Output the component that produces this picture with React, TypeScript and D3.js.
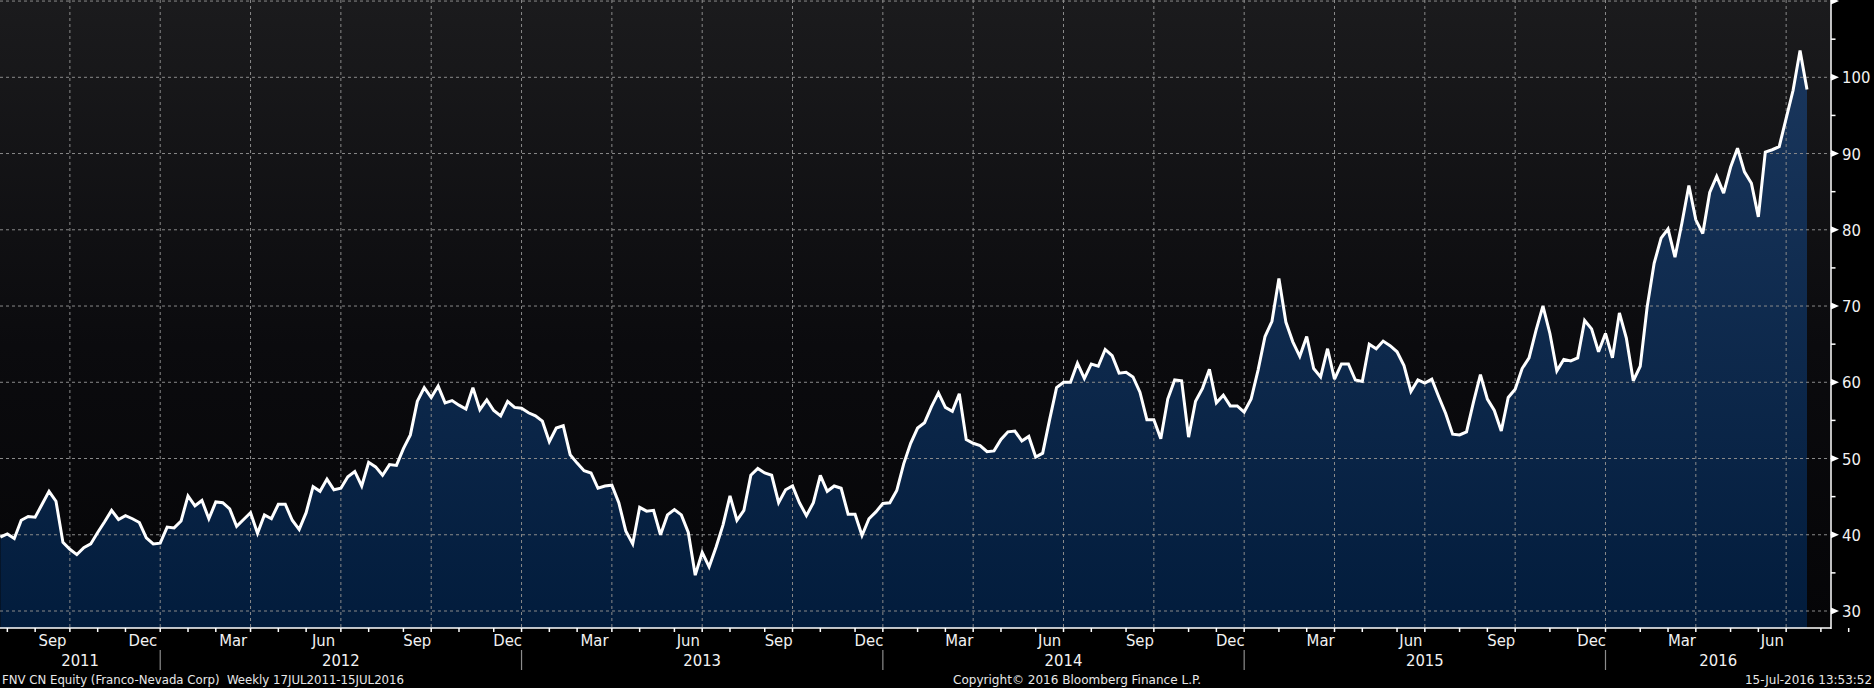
import React, { useRef, useEffect } from "react";
import * as d3 from "d3";

// weekly closes, first week ends Fri 22 Jul 2011
const firstWeek = new Date(Date.UTC(2011, 6, 22));

const prices2011 = [
  39.7, 40.1, 39.5, 41.9, 42.4, 42.3, 44.0, 45.7, 44.4, 39.0, 38.1, 37.4,
  38.3, 38.8, 40.3, 41.7, 43.2, 42.0, 42.5, 42.1, 41.6, 39.6, 38.8, 38.9,
];
const prices2012 = [
  41.0, 40.9, 41.8, 45.1, 43.8, 44.5, 42.1, 44.3, 44.2, 43.4, 41.1, 42.0,
  42.9, 40.2, 42.6, 42.1, 44.0, 44.0, 41.9, 40.7, 42.9, 46.3, 45.7, 47.3,
  45.9, 46.1, 47.6, 48.3, 46.4, 49.5, 48.9, 47.8, 49.2, 49.1, 51.3, 53.1,
  57.5, 59.3, 58.0, 59.5, 57.3, 57.6, 57.0, 56.5, 59.3, 56.4, 57.7, 56.3,
  55.6, 57.5, 56.7, 56.6,
];
const prices2013 = [
  56.0, 55.6, 54.9, 52.2, 54.0, 54.3, 50.5, 49.4, 48.4, 48.1, 46.1, 46.4,
  46.5, 44.2, 40.5, 38.8, 43.6, 43.1, 43.2, 40.0, 42.6, 43.3, 42.6, 40.3,
  34.7, 37.7, 35.8, 38.4, 41.3, 45.1, 41.9, 43.2, 47.8, 48.7, 48.1, 47.8,
  44.2, 45.9, 46.4, 44.2, 42.5, 44.2, 47.8, 45.7, 46.4, 46.1, 42.7, 42.7,
  39.9, 42.1, 43.0, 44.1,
];
const prices2014 = [
  44.2, 45.8, 49.3, 52.0, 54.0, 54.7, 56.8, 58.6, 56.7, 56.2, 58.5, 52.5,
  52.0, 51.7, 50.9, 51.0, 52.5, 53.5, 53.6, 52.3, 52.9, 50.2, 50.7, 55.1,
  59.3, 60.0, 60.0, 62.5, 60.5, 62.4, 62.1, 64.3, 63.5, 61.2, 61.3, 60.7,
  58.7, 55.1, 55.1, 52.6, 57.8, 60.3, 60.2, 52.8, 57.5, 59.2, 61.7, 57.3,
  58.3, 56.9, 56.9, 56.1,
];
const prices2015 = [
  57.8, 61.6, 66.0, 68.0, 73.6, 67.9, 65.3, 63.4, 66.0, 61.8, 60.7, 64.4,
  60.4, 62.4, 62.4, 60.3, 60.1, 65.0, 64.4, 65.4, 64.8, 64.0, 62.2, 58.8,
  60.3, 59.9, 60.4, 58.1, 55.9, 53.2, 53.1, 53.5, 57.4, 61.0, 57.8, 56.3,
  53.6, 58.0, 59.1, 61.8, 63.2, 66.8, 70.0, 66.4, 61.5, 63.0, 62.8, 63.2,
  68.1, 67.0, 64.0, 66.4,
];
const prices2016 = [
  63.2, 69.1, 65.8, 60.2, 62.1, 69.9, 75.6, 78.9, 80.1, 76.4, 80.9, 85.8,
  81.3, 79.5, 84.9, 87.0, 84.8, 88.2, 90.7, 87.6, 86.1, 81.7, 90.2, 90.5,
  90.9, 94.6, 98.3, 103.5, 98.4,
];

const prices = [
  ...prices2011, ...prices2012, ...prices2013,
  ...prices2014, ...prices2015, ...prices2016,
];

const gridValues = [30, 40, 50, 60, 70, 80, 90, 100, 110];
const labelValues = [30, 40, 50, 60, 70, 80, 90, 100];
const minorValues = [35, 45, 55, 65, 75, 85, 95, 105];
const monthNames = ["Jan", "Feb", "Mar", "Apr", "May", "Jun", "Jul", "Aug", "Sep", "Oct", "Nov", "Dec"];
const years = [2011, 2012, 2013, 2014, 2015, 2016];

const footerLeft = "FNV CN Equity (Franco-Nevada Corp)  Weekly 17JUL2011-15JUL2016";
const footerMid = "Copyright\u00A9 2016 Bloomberg Finance L.P.";
const footerRight = "15-Jul-2016 13:53:52";

const W = 1874;
const H = 688;
const plotRight = 1831;
const plotBottom = 628;
const axisFont = "'DejaVu Sans Condensed', 'DejaVu Sans', sans-serif";

const App = () => {
  const svgRef = useRef<SVGSVGElement>(null);

  useEffect(() => {
    const svg = d3.select(svgRef.current);
    svg.selectAll("*").remove();

    // x runs over the week index, y over price
    const x = d3.scaleLinear().domain([0, prices.length - 1]).range([0.4, 1807]);
    const y = d3.scaleLinear().domain([30, 100]).range([611, 77.3]);
    // last weekly point strictly before a date
    const weekIndex = (d: Date) => Math.ceil(d3.utcDay.count(firstWeek, d) / 7) - 1;
    const xDate = (d: Date) => x(weekIndex(d));

    const months = d3.utcMonth.range(new Date(Date.UTC(2011, 7, 1)), new Date(Date.UTC(2016, 8, 2)));

    const defs = svg.append("defs");
    const bg = defs.append("linearGradient").attr("id", "bg")
      .attr("gradientUnits", "userSpaceOnUse")
      .attr("x1", 0).attr("y1", 0).attr("x2", 0).attr("y2", plotBottom);
    bg.append("stop").attr("offset", 0).attr("stop-color", "#1b1b1d");
    bg.append("stop").attr("offset", 0.55).attr("stop-color", "#0b0b0e");
    bg.append("stop").attr("offset", 1).attr("stop-color", "#050507");
    const fill = defs.append("linearGradient").attr("id", "fill")
      .attr("gradientUnits", "userSpaceOnUse")
      .attr("x1", 0).attr("y1", 0).attr("x2", 0).attr("y2", plotBottom);
    fill.append("stop").attr("offset", 0).attr("stop-color", "#1c3960");
    fill.append("stop").attr("offset", 1).attr("stop-color", "#021c3c");
    defs.append("clipPath").attr("id", "plotClip")
      .append("rect").attr("x", 0).attr("y", 0).attr("width", plotRight).attr("height", plotBottom);

    svg.append("rect").attr("width", W).attr("height", H).attr("fill", "#000");
    svg.append("rect").attr("width", plotRight).attr("height", plotBottom).attr("fill", "url(#bg)");

    const plot = svg.append("g").attr("clip-path", "url(#plotClip)");

    // area under the line
    plot.append("path")
      .datum(prices)
      .attr("fill", "url(#fill)")
      .attr("d", d3.area<number>().x((d, i) => x(i)).y0(plotBottom).y1((d) => y(d)));

    // grid
    plot.selectAll(".hgrid").data(gridValues).enter().append("line")
      .attr("x1", 0).attr("x2", plotRight)
      .attr("y1", (d) => y(d)).attr("y2", (d) => y(d))
      .attr("stroke", "#8a8a8a").attr("stroke-width", 1).attr("stroke-dasharray", "3,3");
    plot.selectAll(".vgrid").data(months.filter((m) => m.getUTCMonth() % 3 === 0)).enter().append("line")
      .attr("x1", (d) => xDate(d)).attr("x2", (d) => xDate(d))
      .attr("y1", 0).attr("y2", plotBottom)
      .attr("stroke", "#8a8a8a").attr("stroke-width", 1).attr("stroke-dasharray", "3,3");

    // price line
    plot.append("path")
      .datum(prices)
      .attr("fill", "none")
      .attr("stroke", "#ffffff")
      .attr("stroke-width", 3)
      .attr("stroke-linejoin", "miter")
      .attr("stroke-miterlimit", 3)
      .attr("d", d3.line<number>().x((d, i) => x(i)).y((d) => y(d)));

    // right axis
    svg.append("line").attr("x1", plotRight).attr("x2", plotRight).attr("y1", 0).attr("y2", plotBottom + 1)
      .attr("stroke", "#fff").attr("stroke-width", 1.5);
    svg.selectAll(".ymarker").data(gridValues).enter().append("path")
      .attr("d", (d) => `M${plotRight},${y(d) - 3.5}L${plotRight + 8},${y(d)}L${plotRight},${y(d) + 3.5}Z`)
      .attr("fill", "#fff");
    svg.selectAll(".yminor").data(minorValues).enter().append("line")
      .attr("x1", plotRight).attr("x2", plotRight + 4.5)
      .attr("y1", (d) => y(d)).attr("y2", (d) => y(d))
      .attr("stroke", "#fff").attr("stroke-width", 1.5);
    svg.selectAll(".ylabel").data(labelValues).enter().append("text")
      .attr("x", plotRight + 11).attr("y", (d) => y(d) + 6)
      .attr("fill", "#f2f2f2").attr("font-family", axisFont).attr("font-size", 16.5)
      .text((d) => d);

    // bottom axis
    svg.append("line").attr("x1", 0).attr("x2", plotRight).attr("y1", plotBottom).attr("y2", plotBottom)
      .attr("stroke", "#fff").attr("stroke-width", 1.5);
    svg.selectAll(".xtick").data(months).enter().append("line")
      .attr("x1", (d) => xDate(d)).attr("x2", (d) => xDate(d))
      .attr("y1", plotBottom).attr("y2", plotBottom + 4)
      .attr("stroke", "#fff").attr("stroke-width", 1.5);

    const labelMonths = months.filter((m) => m.getUTCMonth() % 3 === 2 && m < new Date(Date.UTC(2016, 6, 1)));
    svg.selectAll(".xlabel").data(labelMonths).enter().append("text")
      .attr("x", (d) => (xDate(d) + xDate(d3.utcMonth.offset(d, 1))) / 2)
      .attr("y", 646)
      .attr("text-anchor", "middle")
      .attr("fill", "#f2f2f2").attr("font-family", axisFont).attr("font-size", 16.5)
      .text((d) => monthNames[d.getUTCMonth()]);

    const yearStarts = years.slice(1).map((yr) => new Date(Date.UTC(yr, 0, 1)));
    svg.selectAll(".ysep").data(yearStarts).enter().append("line")
      .attr("x1", (d) => xDate(d)).attr("x2", (d) => xDate(d))
      .attr("y1", 650).attr("y2", 670)
      .attr("stroke", "#8c8c8c").attr("stroke-width", 1.2);
    const yearEdge = (yr: number) =>
      yr <= years[0] ? 0 : yr > years[years.length - 1] ? plotRight : xDate(new Date(Date.UTC(yr, 0, 1)));
    svg.selectAll(".yearlabel").data(years).enter().append("text")
      .attr("x", (d) => (yearEdge(d) + yearEdge(d + 1)) / 2)
      .attr("y", 666)
      .attr("text-anchor", "middle")
      .attr("fill", "#f2f2f2").attr("font-family", axisFont).attr("font-size", 16.5)
      .text((d) => d);

    // footer
    const footer = [
      { text: footerLeft, x: 2, len: 402 },
      { text: footerMid, x: 953, len: 248 },
      { text: footerRight, x: 1745, len: 127 },
    ];
    svg.selectAll(".footer").data(footer).enter().append("text")
      .attr("x", (d) => d.x).attr("y", 684)
      .attr("textLength", (d) => d.len).attr("lengthAdjust", "spacingAndGlyphs")
      .attr("fill", "#e8e8e8").attr("font-family", axisFont).attr("font-size", 12.5)
      .style("white-space", "pre")
      .text((d) => d.text);
  }, []);

  return (
    <svg
      ref={svgRef}
      width={W}
      height={H}
      style={{ position: "absolute", left: 0, top: 0, display: "block" }}
    ></svg>
  );
};

export default App;
